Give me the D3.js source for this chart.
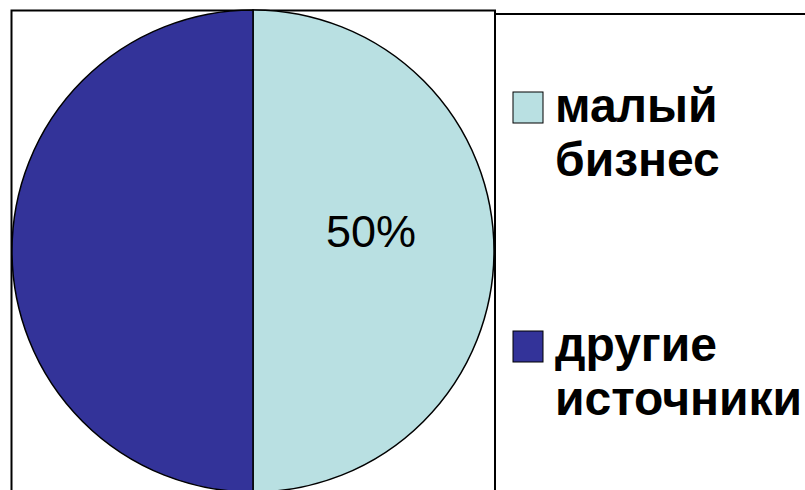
<!DOCTYPE html>
<html><head><meta charset="utf-8">
<script src="https://cdn.jsdelivr.net/npm/d3@7"></script>
<style>html,body{margin:0;padding:0;background:#fff;}</style>
</head><body>
<svg id="c" width="805" height="490"></svg>
<script>
const categories = ["малый бизнес", "другие источники"];
const legendLines = [["малый", "бизнес"], ["другие", "источники"]];
const values = [50, 50];
const colors = ["#b9e0e2", "#333399"];
const pctLabels = ["50%", ""];

const svg = d3.select("#c");
// plot frame
svg.append("rect").attr("x", 11.5).attr("y", 10.5).attr("width", 483.5).attr("height", 490)
  .attr("fill", "#fff").attr("stroke", "#000").attr("stroke-width", 2);
svg.append("line").attr("x1", 495).attr("x2", 805).attr("y1", 14).attr("y2", 14)
  .attr("stroke", "#000").attr("stroke-width", 2);

const cx = 253, cy = 251, r = 241;
const pie = d3.pie().sort(null).value(d => d);
const arcs = pie(values);
const arc = d3.arc().innerRadius(0).outerRadius(r);
const g = svg.append("g").attr("transform", `translate(${cx},${cy})`);
g.selectAll("path").data(arcs).join("path")
  .attr("d", arc).attr("fill", (d, i) => colors[i])
  .attr("stroke", "#000").attr("stroke-width", 1.5);

const labelArc = d3.arc().innerRadius(r * 0.49).outerRadius(r * 0.49);
g.selectAll("text.pct").data(arcs).join("text").attr("class", "pct")
  .attr("transform", d => { const c = labelArc.centroid(d); return `translate(${c[0]},${c[1] - 4})`; })
  .attr("text-anchor", "middle")
  .attr("font-family", "Liberation Sans, Arial, sans-serif").attr("font-size", 45)
  .text((d, i) => pctLabels[i]);

// legend
const ly = [92, 331];
const leg = svg.append("g");
categories.forEach((c, i) => {
  leg.append("rect").attr("x", 513).attr("y", ly[i]).attr("width", 30).attr("height", 31)
    .attr("fill", colors[i]).attr("stroke", "#000").attr("stroke-width", 1);
  const t = leg.append("text").attr("font-family", "Liberation Sans, Arial, sans-serif")
    .attr("font-weight", "bold").attr("font-size", 48).attr("fill", "#000");
  legendLines[i].forEach((ln, j) => {
    t.append("tspan").attr("x", 555).attr("y", ly[i] + 30 + j * 54).text(ln);
  });
});
</script>
</body></html>
